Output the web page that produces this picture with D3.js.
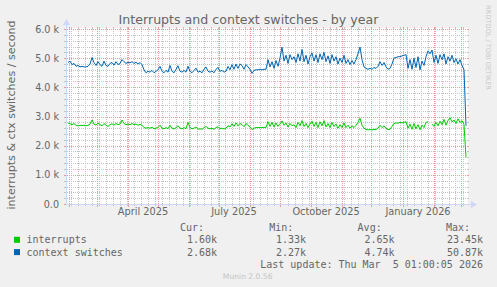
<!DOCTYPE html>
<html><head><meta charset="utf-8">
<script src="https://cdn.jsdelivr.net/npm/d3@7"></script>
<style>
html,body{margin:0;padding:0;background:#F0F0F0;overflow:hidden;}
svg{display:block;}
text{font-family:"DejaVu Sans",sans-serif;fill:#666666;}
.mono{font-family:"DejaVu Sans Mono",monospace;white-space:pre;}
</style></head><body>
<svg id="chart" width="497" height="287"></svg>
<script>
const title = "Interrupts and context switches - by year";
const yAxisTitle = "interrupts & ctx switches / second";
const seriesNames = ["interrupts", "context switches"];
const seriesColors = ["#00CC00", "#0066B3"];
const firstSample = "2025-01-31T12:00:00";
const sampleStepDays = 2;
const domainStart = "2025-01-30T12:00:00";
const domainEnd = "2026-03-06T12:00:00";

// values in thousands per second
const interrupts = [
2.78,2.75,2.72,2.76,2.70,2.68,2.70,2.69,2.70,2.68,
2.70,2.74,2.88,2.74,2.70,2.78,2.72,2.68,2.76,2.70,
2.66,2.72,2.75,2.70,2.76,2.72,2.74,2.88,2.76,2.72,
2.74,2.72,2.76,2.72,2.74,2.70,2.73,2.70,2.62,2.60,
2.62,2.60,2.63,2.58,2.60,2.62,2.70,2.60,2.58,2.62,
2.58,2.70,2.60,2.57,2.62,2.68,2.60,2.58,2.62,2.58,
2.80,2.62,2.58,2.60,2.64,2.56,2.58,2.56,2.62,2.66,
2.60,2.58,2.60,2.56,2.62,2.65,2.58,2.60,2.57,2.60,
2.68,2.64,2.75,2.66,2.78,2.68,2.76,2.72,2.65,2.76,
2.70,2.64,2.55,2.60,2.62,2.62,2.62,2.62,2.63,2.62,
2.82,2.66,2.80,2.64,2.78,2.66,2.74,2.85,2.70,2.78,
2.64,2.76,2.68,2.72,2.62,2.80,2.68,2.86,2.66,2.76,
2.62,2.74,2.84,2.66,2.80,2.62,2.82,2.68,2.86,2.64,
2.76,2.62,2.80,2.66,2.74,2.60,2.72,2.62,2.78,2.62,
2.70,2.60,2.68,2.62,2.70,2.80,2.94,2.70,2.60,2.56,
2.54,2.55,2.54,2.56,2.55,2.60,2.70,2.62,2.68,2.60,
2.55,2.56,2.66,2.76,2.78,2.77,2.80,2.78,2.80,2.82,
2.60,2.74,2.56,2.76,2.58,2.72,2.55,2.70,2.62,2.80,
2.82,null,2.74,2.66,2.80,2.68,2.84,2.72,2.90,2.70,
2.86,2.96,2.82,2.88,2.76,2.92,2.80,2.86,2.72,1.60
];
const contextSwitches = [
4.85,4.90,4.78,4.82,4.72,4.75,4.70,4.72,4.70,4.70,
4.72,4.80,5.02,4.85,4.75,4.88,4.78,4.72,4.90,4.75,
4.72,4.82,4.85,4.76,4.88,4.78,4.82,4.95,4.88,4.82,
4.86,4.84,4.88,4.82,4.86,4.80,4.85,4.78,4.60,4.50,
4.55,4.52,4.58,4.50,4.55,4.60,4.72,4.55,4.50,4.58,
4.52,4.75,4.55,4.50,4.62,4.74,4.55,4.52,4.58,4.52,
4.72,4.55,4.50,4.58,4.66,4.52,4.55,4.50,4.62,4.70,
4.55,4.52,4.56,4.50,4.62,4.68,4.55,4.58,4.52,4.55,
4.72,4.60,4.78,4.62,4.80,4.65,4.80,4.75,4.62,4.78,
4.70,4.62,4.48,4.58,4.60,4.60,4.62,4.60,4.62,4.62,
4.95,4.70,4.88,4.65,4.92,4.72,5.00,5.38,4.90,5.10,
4.82,5.12,4.95,5.05,4.85,5.15,4.90,5.30,4.88,5.10,
4.80,5.05,5.18,4.90,5.12,4.85,5.15,4.95,5.20,4.88,
5.08,4.82,5.12,4.90,5.05,4.80,5.00,4.85,5.10,4.82,
4.95,4.78,4.92,4.80,4.95,5.15,5.38,4.95,4.70,4.65,
4.62,4.65,4.62,4.68,4.65,4.72,4.88,4.75,4.85,4.70,
4.62,4.65,4.80,5.00,5.02,5.05,5.05,5.08,5.10,5.12,
4.65,4.95,4.62,5.00,4.68,5.05,4.60,4.90,4.75,5.05,
5.25,5.15,5.28,4.85,5.10,4.82,5.12,4.95,5.15,4.80,
5.05,4.90,5.10,4.85,4.98,4.80,4.95,4.75,4.60,2.68
];

const yTickValues = [0, 1, 2, 3, 4, 5, 6];
const yTickLabels = ["0.0", "1.0 k", "2.0 k", "3.0 k", "4.0 k", "5.0 k", "6.0 k"];
const xLabelDates = ["2025-04-16", "2025-07-16", "2025-10-16", "2026-01-16"];
const xLabelTexts = ["April 2025", "July 2025", "October 2025", "January 2026"];
const legendHeaders = ["Cur:", "Min:", "Avg:", "Max:"];
const legendValues = [
  ["1.60k", "1.33k", "2.65k", "23.45k"],
  ["2.68k", "2.27k", "4.74k", "50.87k"]
];
const lastUpdate = "Last update: Thu Mar  5 01:00:05 2026";
const footer = "Munin 2.0.56";
const watermark = "RRDTOOL / TOBI OETIKER";

const W = 497, H = 287;
const plot = {left: 67, right: 467, top: 29, bottom: 204};
const svg = d3.select("#chart");

const x = d3.scaleTime()
  .domain([new Date(domainStart), new Date(domainEnd)])
  .range([plot.left, plot.right]);
const y = d3.scaleLinear().domain([0, 6]).range([plot.bottom, plot.top]);

// canvas
svg.append("rect").attr("x", plot.left).attr("y", plot.top - 1)
  .attr("width", plot.right - plot.left + 1).attr("height", plot.bottom - plot.top + 1)
  .attr("fill", "#FFFFFF");

const grid = svg.append("g").attr("shape-rendering", "crispEdges");
const minorCol = "#C4C4C4", majorCol = "#EB9A9A";
const majorY = new Set(yTickValues.map(v => v.toFixed(2)));
// horizontal minor
y.ticks(30).filter(v => !majorY.has(v.toFixed(2))).forEach(v => {
  const yy = Math.round(y(v)) + 0.5;
  grid.append("line").attr("x1", plot.left).attr("x2", plot.right).attr("y1", yy).attr("y2", yy)
    .attr("stroke", minorCol).attr("stroke-dasharray", "1,1");
  grid.append("line").attr("x1", plot.left - 3).attr("x2", plot.left).attr("y1", yy).attr("y2", yy).attr("stroke", minorCol);
  grid.append("line").attr("x1", plot.right).attr("x2", plot.right + 2).attr("y1", yy).attr("y2", yy).attr("stroke", minorCol);
});
// vertical minor (weekly)
const t0 = x.domain()[0], t1 = x.domain()[1];
const months = d3.timeMonth.range(t0, t1);
const monthKeys = new Set(months.map(d => +d));
d3.timeMonday.range(t0, t1).filter(d => !monthKeys.has(+d)).forEach(d => {
  const xx = Math.round(x(d)) + 0.5;
  grid.append("line").attr("x1", xx).attr("x2", xx).attr("y1", plot.top).attr("y2", plot.bottom)
    .attr("stroke", minorCol).attr("stroke-dasharray", "1,1");
  grid.append("line").attr("x1", xx).attr("x2", xx).attr("y1", plot.bottom).attr("y2", plot.bottom + 2).attr("stroke", minorCol);
  grid.append("line").attr("x1", xx).attr("x2", xx).attr("y1", plot.top - 2).attr("y2", plot.top).attr("stroke", minorCol);
});
// horizontal major
yTickValues.forEach(v => {
  const yy = Math.round(y(v)) + 0.5;
  grid.append("line").attr("x1", plot.left).attr("x2", plot.right).attr("y1", yy).attr("y2", yy)
    .attr("stroke", majorCol).attr("stroke-dasharray", "1,1");
  grid.append("line").attr("x1", plot.left - 3).attr("x2", plot.left).attr("y1", yy).attr("y2", yy).attr("stroke", majorCol);
  grid.append("line").attr("x1", plot.right).attr("x2", plot.right + 2).attr("y1", yy).attr("y2", yy).attr("stroke", majorCol);
});
// vertical major (monthly)
months.forEach(d => {
  const xx = Math.round(x(d)) + 0.5;
  grid.append("line").attr("x1", xx).attr("x2", xx).attr("y1", plot.top).attr("y2", plot.bottom)
    .attr("stroke", majorCol).attr("stroke-dasharray", "1,1");
  grid.append("line").attr("x1", xx).attr("x2", xx).attr("y1", plot.bottom).attr("y2", plot.bottom + 3).attr("stroke", majorCol);
  grid.append("line").attr("x1", xx).attr("x2", xx).attr("y1", plot.top - 2).attr("y2", plot.top).attr("stroke", majorCol);
});

// axes lines + arrows
const axisCol = "#CFD6F8";
const ax = svg.append("g").attr("shape-rendering", "crispEdges");
ax.append("line").attr("x1", plot.left - 0.5).attr("x2", plot.left - 0.5).attr("y1", plot.bottom + 1).attr("y2", plot.top - 5).attr("stroke", axisCol);
ax.append("line").attr("x1", plot.left - 1).attr("x2", plot.right + 4).attr("y1", plot.bottom + 0.5).attr("y2", plot.bottom + 0.5).attr("stroke", axisCol);
svg.append("path").attr("d", `M${plot.left - 4},${plot.top - 4} L${plot.left - 0.5},${plot.top - 10} L${plot.left + 3},${plot.top - 4} Z`).attr("fill", axisCol);
svg.append("path").attr("d", `M${plot.right + 4},${plot.bottom - 3} L${plot.right + 10},${plot.bottom + 0.5} L${plot.right + 4},${plot.bottom + 4} Z`).attr("fill", axisCol);

// series
const dates = interrupts.map((_, i) => d3.timeDay.offset(new Date(firstSample), i * sampleStepDays));
const line = d3.line().defined(d => d[1] != null).x(d => x(d[0])).y(d => y(d[1]));
[interrupts, contextSwitches].forEach((vals, k) => {
  svg.append("path").datum(vals.map((v, i) => [dates[i], v]))
    .attr("d", line).attr("fill", "none").attr("stroke", seriesColors[k]).attr("stroke-width", 1);
});

// y axis labels
const yAxis = svg.append("g").attr("transform", `translate(${plot.left},0)`)
  .call(d3.axisLeft(y).tickValues(yTickValues).tickFormat((d, i) => yTickLabels[i]).tickSize(0).tickPadding(8));
yAxis.select(".domain").remove();
yAxis.selectAll("text").style("font-family", "DejaVu Sans").style("font-size", "9.6px").attr("fill", "#666666");

// x axis labels
const xAxis = svg.append("g").attr("transform", `translate(0,${plot.bottom})`)
  .call(d3.axisBottom(x).tickValues(xLabelDates.map(s => new Date(s + "T00:00:00")))
    .tickFormat((d, i) => xLabelTexts[i]).tickSize(0).tickPadding(4.5));
xAxis.select(".domain").remove();
xAxis.selectAll("text").style("font-family", "DejaVu Sans").style("font-size", "9.8px").attr("fill", "#666666");

// title
svg.append("text").attr("x", 248.5).attr("y", 23.5).attr("text-anchor", "middle")
  .style("font-size", "12.6px").text(title);
// y axis title
svg.append("text").attr("transform", "translate(14.5,115) rotate(-90)").attr("text-anchor", "middle")
  .style("font-size", "11.1px").text(yAxisTitle);
// watermark
svg.append("text").attr("transform", "translate(486,5) rotate(90)").attr("text-anchor", "start")
  .style("font-size", "6.6px").attr("fill", "#CCCCCC").style("fill", "#C8C8C8").text(watermark);

// legend
const colEnds = [204, 293.3, 381.7, 470];
const valEnds = [217, 306, 394.5, 483];
legendHeaders.forEach((h, i) => {
  svg.append("text").attr("class", "mono").attr("x", colEnds[i]).attr("y", 231).attr("text-anchor", "end")
    .style("font-size", "10px").text(h);
});
const rowY = [243.3, 255.6];
seriesNames.forEach((n, k) => {
  svg.append("rect").attr("x", 14).attr("y", rowY[k] - 6.5).attr("width", 6).attr("height", 6).attr("fill", seriesColors[k]);
  svg.append("text").attr("class", "mono").attr("x", 26.5).attr("y", rowY[k]).style("font-size", "10px").text(n);
  legendValues[k].forEach((v, i) => {
    svg.append("text").attr("class", "mono").attr("x", valEnds[i]).attr("y", rowY[k]).attr("text-anchor", "end")
      .style("font-size", "10px").text(v);
  });
});
svg.append("text").attr("class", "mono").attr("x", 483).attr("y", 267.8).attr("text-anchor", "end")
  .style("font-size", "10px").text(lastUpdate);
svg.append("text").attr("x", 247.7).attr("y", 279).attr("text-anchor", "middle")
  .style("font-size", "7.6px").style("fill", "#C4C4C4").text(footer);
</script>
</body></html>
